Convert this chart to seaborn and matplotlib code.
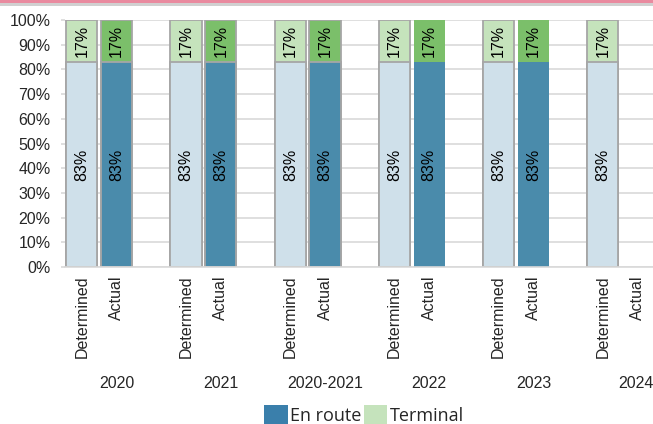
import numpy as np
import pandas as pd
import seaborn as sns
import matplotlib
matplotlib.use("Agg")
import matplotlib.pyplot as plt
from matplotlib import font_manager as fm
from matplotlib.patches import Patch, Rectangle

# ---- data -------------------------------------------------------------
periods = ["2020", "2021", "2020-2021", "2022", "2023", "2024"]
kinds = ["Determined", "Actual"]
det_en_route = [83, 83, 83, 83, 83, 83]
det_terminal = [17, 17, 17, 17, 17, 17]
act_en_route = [83, 83, 83, 83, 83, None]
act_terminal = [17, 17, 17, 17, 17, None]
# actual bars drawn with an outline
act_outlined = [True, True, True, False, False, False]

# ---- styling ----------------------------------------------------------
C_DET_EN = "#cfe0ea"
C_DET_TE = "#c5e3bc"
C_ACT_EN = "#4a8bab"
C_ACT_TE = "#7bbf6a"
C_LEG_EN = "#3a7fab"
EDGE = "#a6a6a6"
GRID = "#d9d9d9"

sns.set_theme(style="white")


def regular_face(name):
    """Pick the upright, regular-width file of a family."""
    for f in fm.fontManager.ttflist:
        fn = f.fname.lower()
        if (f.name == name and f.style == "normal" and f.weight in (400, "normal", "regular")
                and "narrow" not in fn and "condensed" not in fn):
            return fm.FontProperties(fname=f.fname)
    return fm.FontProperties(family=name)


base = regular_face("Liberation Sans")
plt.rcParams["font.family"] = [base.get_name(), "DejaVu Sans"]
FS = 11.5


def fp(size=FS):
    p = base.copy()
    p.set_size(size)
    return p


# three slots per period: Determined, Actual, spacer
slots = []
for p in periods:
    slots += [f"{p}|Determined", f"{p}|Actual", f"{p}|gap"]

rows = []
for i, p in enumerate(periods):
    rows.append(dict(slot=f"{p}|Determined", kind="Determined",
                     en=det_en_route[i], te=det_terminal[i]))
    if act_en_route[i] is not None:
        rows.append(dict(slot=f"{p}|Actual", kind="Actual",
                         en=act_en_route[i], te=act_terminal[i]))
df = pd.DataFrame(rows)
df["total"] = df["en"] + df["te"]

fig = plt.figure(figsize=(6.53, 4.24), dpi=100)
W, H = 653, 424
left_px, right_px, top_px, bot_px = 64.5, 64.5 + 6 * 104.2, 20, 267
ax = fig.add_axes([left_px / W, 1 - bot_px / H,
                   (right_px - left_px) / W, (bot_px - top_px) / H])

# terminal layer (full height), then en route layer on top
sns.barplot(data=df, x="slot", y="total", hue="kind", order=slots,
            hue_order=kinds, palette={"Determined": C_DET_TE, "Actual": C_ACT_TE},
            dodge=False, width=0.9, legend=False, ax=ax, saturation=1)
sns.barplot(data=df, x="slot", y="en", hue="kind", order=slots,
            hue_order=kinds, palette={"Determined": C_DET_EN, "Actual": C_ACT_EN},
            dodge=False, width=0.9, legend=False, ax=ax, saturation=1)

# outlines
for patch in ax.patches:
    if patch.get_height() <= 0 or np.isnan(patch.get_height()):
        continue
    idx = int(round(patch.get_x() + patch.get_width() / 2))
    period_i, pos = divmod(idx, 3)
    if pos == 0 or (pos == 1 and act_outlined[period_i]):
        patch.set_edgecolor(EDGE)
        patch.set_linewidth(1.3)
    else:
        patch.set_edgecolor("none")
        patch.set_linewidth(0)

# value labels
for _, r in df.iterrows():
    x = slots.index(r["slot"])
    ax.text(x, r["en"] + r["te"] / 2, f"{r['te']}%", rotation=90,
            ha="center", va="center", fontproperties=fp(), color="black")
    ax.text(x, r["en"] / 2, f"{r['en']}%", rotation=90,
            ha="center", va="center", fontproperties=fp(), color="black")

ax.set_xlim(-0.5, len(slots) - 0.5)
ax.set_ylim(0, 100)
ax.set_yticks(np.arange(0, 101, 10))
ax.set_yticklabels([f"{v}%" for v in range(0, 101, 10)])
ax.yaxis.grid(True, color=GRID, linewidth=1.2)
ax.set_axisbelow(True)
ax.tick_params(axis="y", length=3, width=1.2, color=GRID, pad=7, left=True)

tick_pos = [i for i, s in enumerate(slots) if not s.endswith("|gap")]
ax.set_xticks(tick_pos)
ax.set_xticklabels([slots[i].split("|")[1] for i in tick_pos], rotation=90,
                   va="top", ha="center")
ax.tick_params(axis="x", length=0, pad=6)
for lab in ax.get_xticklabels() + ax.get_yticklabels():
    lab.set_fontproperties(fp())
ax.set_xlabel("")
ax.set_ylabel("")

for s in ["top", "right", "left"]:
    ax.spines[s].set_visible(False)
ax.spines["bottom"].set_color(GRID)
ax.spines["bottom"].set_linewidth(1.2)

# period labels under each pair
for i, p in enumerate(periods):
    x_fig = (left_px + (3 * i + 1.5) / 18 * (right_px - left_px)) / W
    if i == len(periods) - 1:
        x_fig = min(x_fig, 635.5 / W)
    fig.text(x_fig, 1 - 383 / H, p, ha="center", va="center", fontproperties=fp())

# legend
handles = [Patch(facecolor=C_LEG_EN, edgecolor="none", label="En route"),
           Patch(facecolor=C_DET_TE, edgecolor="none", label="Terminal")]
fig.legend(handles=handles, loc="center", bbox_to_anchor=(364 / W, 1 - 415 / H),
           ncol=2, frameon=False, handlelength=1.3, handleheight=1.35,
           handletextpad=0.12, columnspacing=0.15, borderpad=0,
           prop={"family": "Open Sans", "size": 13})

# header band
fig.patches.append(Rectangle((0, 1 - 3.5 / H), 1, 3.5 / H, transform=fig.transFigure,
                             facecolor="#e98a9f", edgecolor="none"))
fig.patches.append(Rectangle((0, 1 - 5.5 / H), 1, 2 / H, transform=fig.transFigure,
                             facecolor="#d0d0d0", edgecolor="none"))

fig.savefig("out.png", dpi=100)
